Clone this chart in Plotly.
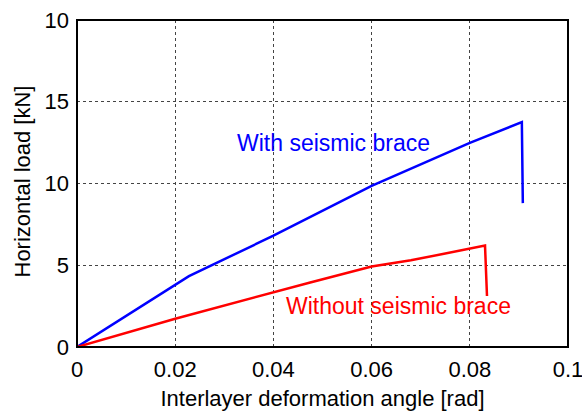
import plotly.graph_objects as go

# Data
with_x = [0, 0.0228, 0.04, 0.06, 0.08, 0.0906, 0.0908]
with_y = [0, 4.33, 6.81, 9.86, 12.48, 13.76, 8.8]
without_x = [0, 0.02, 0.0475, 0.06, 0.068, 0.08, 0.0831, 0.0835]
without_y = [0, 1.73, 3.95, 4.92, 5.3, 5.98, 6.2, 3.12]

x_ticks = [0, 0.02, 0.04, 0.06, 0.08, 0.1]
x_tick_labels = ["0", "0.02", "0.04", "0.06", "0.08", "0.1"]
y_ticks = [0, 5, 10, 15, 20]
y_tick_labels = ["0", "5", "10", "15", "10"]

FONT = "Arial, Liberation Sans, sans-serif"

fig = go.Figure()
fig.add_trace(go.Scatter(x=with_x, y=with_y, mode="lines",
                         line=dict(color="#0000ff", width=2.5), showlegend=False))
fig.add_trace(go.Scatter(x=without_x, y=without_y, mode="lines",
                         line=dict(color="#ff0000", width=2.5), showlegend=False))

fig.add_annotation(x=0.0523, y=12.45, text="With seismic brace", showarrow=False,
                   font=dict(color="#0000ff", size=23, family=FONT),
                   xanchor="center", yanchor="middle")
fig.add_annotation(x=0.0654, y=2.5, text="Without seismic brace", showarrow=False,
                   font=dict(color="#ff0000", size=23, family=FONT),
                   xanchor="center", yanchor="middle")
# y-axis title
fig.add_annotation(xref="paper", yref="paper", x=0, y=0.5, xshift=-55, yshift=2,
                   text="Horizontal load [kN]", textangle=-90, showarrow=False,
                   font=dict(color="black", size=22, family=FONT),
                   xanchor="center", yanchor="middle")
# plot frame
fig.add_shape(type="rect", xref="paper", yref="paper", x0=0, y0=0, x1=1, y1=1,
              line=dict(color="black", width=2), fillcolor="rgba(0,0,0,0)", layer="above")

fig.update_layout(
    width=582, height=412,
    margin=dict(l=77, r=14, t=20, b=65),
    paper_bgcolor="white", plot_bgcolor="white",
    font=dict(family=FONT, size=22, color="black"),
    xaxis=dict(range=[0, 0.1], tickvals=x_ticks, ticktext=x_tick_labels,
               showgrid=True, gridcolor="#444444", griddash="dot", gridwidth=1,
               showline=False, zeroline=False, ticks="", automargin=False,
               ticklabeloverflow="allow", ticklabelstandoff=7, tickfont=dict(size=22),
               title=dict(text="Interlayer deformation angle [rad]", standoff=9,
                          font=dict(size=22))),
    yaxis=dict(range=[0, 20], tickvals=y_ticks, ticktext=y_tick_labels,
               showgrid=True, gridcolor="#444444", griddash="dot", gridwidth=1,
               showline=False, zeroline=False, ticks="", automargin=False,
               ticklabeloverflow="allow", ticklabelstandoff=7, tickfont=dict(size=22)),
)

fig.write_html("out.html",
               config={"displayModeBar": False},
               post_script="document.body.style.margin='0';document.body.style.overflow='hidden';")
